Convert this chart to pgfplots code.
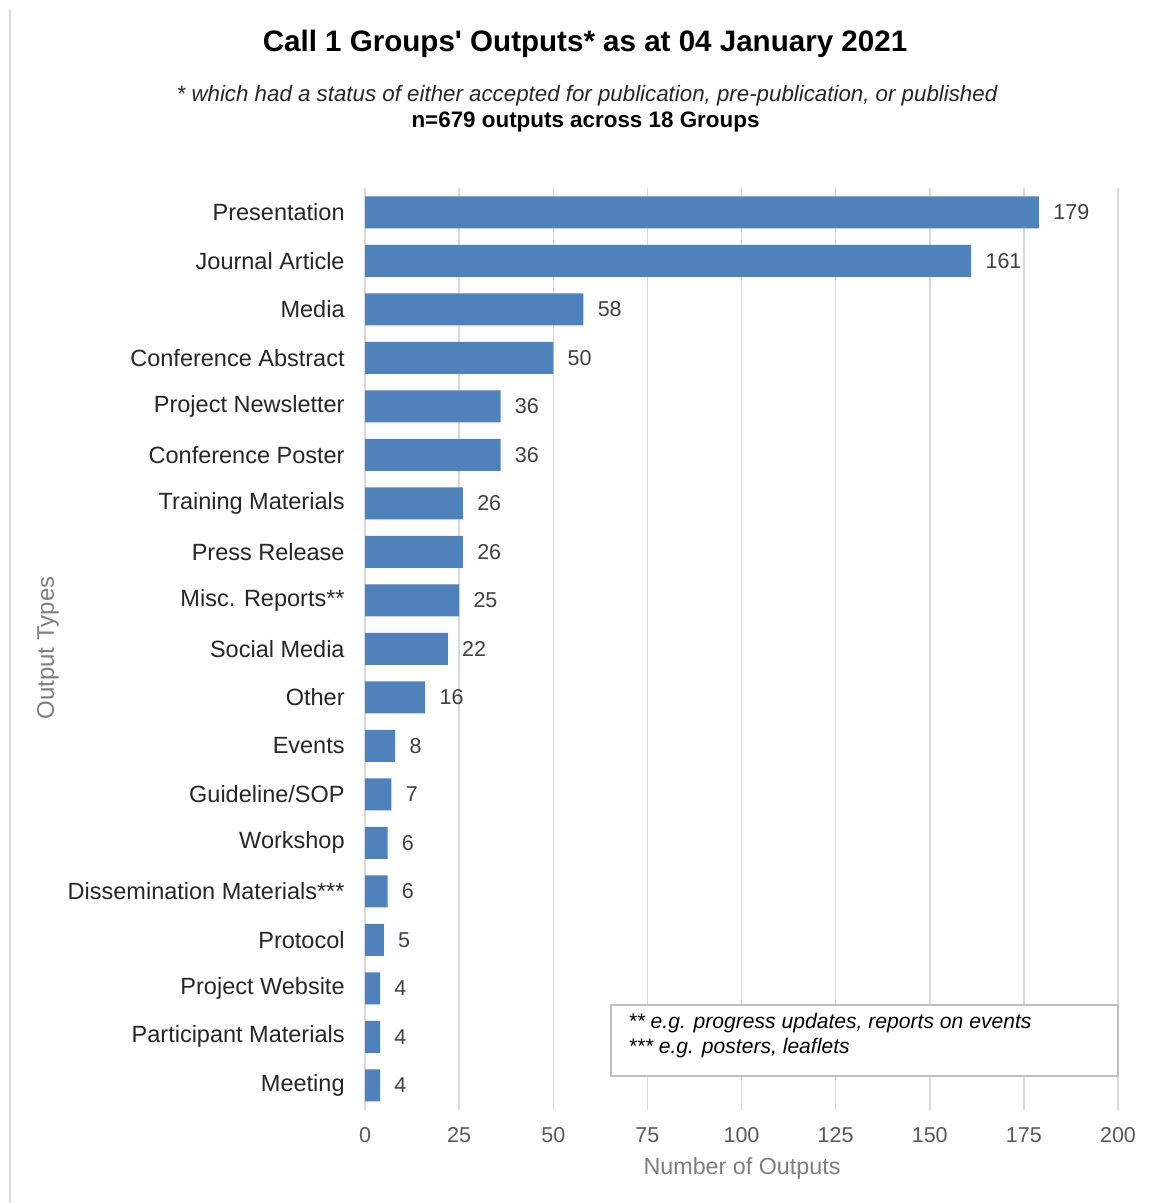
\documentclass[border=0pt]{standalone}
\usepackage{pgfplots}
\pgfplotsset{compat=1.18}
\usepackage{fontspec}
\setmainfont{Liberation Sans}
\definecolor{barblue}{HTML}{4F81BD}
\definecolor{gridgray}{HTML}{D9D9D9}
\definecolor{ticktxt}{HTML}{595959}
\definecolor{labtxt}{HTML}{404040}
\definecolor{cattxt}{HTML}{262626}
\definecolor{axtitle}{HTML}{7F7F7F}
\definecolor{boxgray}{HTML}{BFBFBF}
\begin{document}
\begin{tikzpicture}
\useasboundingbox (0pt,0pt) rectangle (574.5pt,-601.5pt);
\fill[white] (0pt,0pt) rectangle (574.5pt,-601.5pt);
\draw[gridgray, line width=0.6pt] (5pt,-5pt) -- (5pt,-601.5pt);
\node[font=\fontsize{14.78}{17}\selectfont\bfseries, text=black] at (292.5pt,-21.8pt) {Call 1 Groups\textquotesingle{} Outputs* as at 04 January 2021};
\node[font=\fontsize{11.15}{13}\selectfont\itshape, text=cattxt] at (293.5pt,-48pt) {* which had a status of either accepted for publication, pre-publication, or published};
\node[font=\fontsize{11.2}{13}\selectfont\bfseries, text=black] at (292.75pt,-61pt) {n=679 outputs across 18 Groups};
\begin{axis}[
  at={(182.5pt,-554.75pt)}, anchor=south west,
  scale only axis, width=376.5pt, height=460.75pt,
  xmin=0, xmax=200, ymin=-0.5, ymax=18.5,
  y dir=reverse,
  axis line style={draw=none},
  major tick length=0pt,
  xtick={0,25,...,200},
  ytick={0,...,18},
  yticklabels={Presentation,Journal Article,Media,Conference Abstract,Project Newsletter,Conference Poster,Training Materials,Press Release,Misc. Reports**,Social Media,Other,Events,Guideline/SOP,Workshop,Dissemination Materials***,Protocol,Project Website,Participant Materials,Meeting},
  xmajorgrids, ymajorgrids=false,
  grid style={draw=gridgray, line width=0.75pt},
  /pgf/number format/assume math mode=true,
  xticklabel style={font=\fontsize{10.75}{12}\selectfont, text=ticktxt, inner sep=0pt, anchor=north, yshift=-8.75pt},
  yticklabel style={font=\fontsize{11.75}{13}\selectfont, text=cattxt, inner sep=0pt, anchor=east, xshift=-10pt},
]
\addplot[xbar, bar width=0.66, fill=barblue, draw=none,
  point meta=x,
  nodes near coords,
  every node near coord/.style={anchor=west, inner sep=0pt, xshift=7pt, font=\fontsize{10.75}{12}\selectfont, text=labtxt},
] coordinates {
(179,0) (161,1) (58,2) (50,3) (36,4) (36,5) (26,6) (26,7) (25,8) (22,9)
(16,10) (8,11) (7,12) (6,13) (6,14) (5,15) (4,16) (4,17) (4,18)
};
\end{axis}
\node[font=\fontsize{11.65}{13}\selectfont, text=axtitle] at (371pt,-584pt) {Number of Outputs};
\node[font=\fontsize{12}{13}\selectfont, text=axtitle, rotate=90] at (24pt,-324pt) {Output Types};
\draw[boxgray, fill=white, line width=0.6pt] (305.5pt,-502.5pt) rectangle (559pt,-538pt);
\node[font=\fontsize{10.55}{12}\selectfont\itshape, text=black, anchor=west, inner sep=0pt] at (314pt,-511.5pt) {** e.g. progress updates, reports on events};
\node[font=\fontsize{10.55}{12}\selectfont\itshape, text=black, anchor=west, inner sep=0pt] at (314pt,-524pt) {*** e.g. posters, leaflets};
\end{tikzpicture}
\end{document}
